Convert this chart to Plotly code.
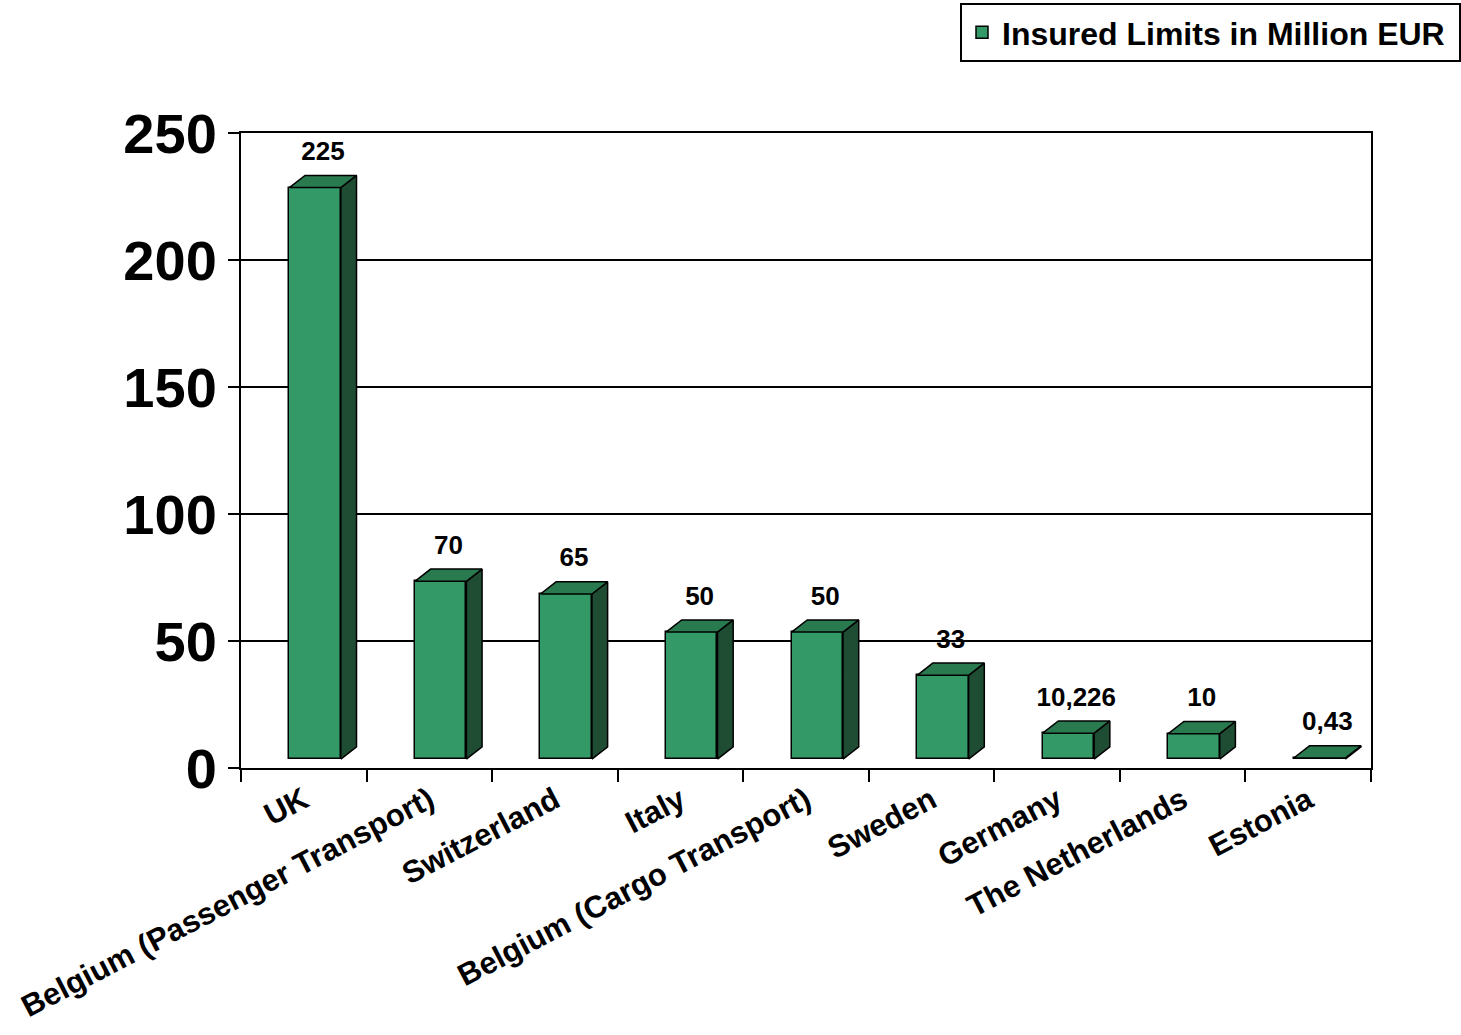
import plotly.graph_objects as go

categories = ["UK", "Belgium (Passenger Transport)", "Switzerland", "Italy",
              "Belgium (Cargo Transport)", "Sweden", "Germany", "The Netherlands", "Estonia"]
values = [225, 70, 65, 50, 50, 33, 10.226, 10, 0.43]
value_labels = ["225", "70", "65", "50", "50", "33", "10,226", "10", "0,43"]
series_name = "Insured Limits in Million EUR"

FRONT = "#339966"
TOP = "#2A7A50"
SIDE = "#1E4D33"
FONT = "Arial, Liberation Sans, sans-serif"

# 3D look parameters (data units)
BASE = 3.5      # floor lift of the front face
W = 0.41        # front face width (category units)
OFF = 0.09      # shift of bars within category
DX = 0.125      # depth, horizontal
DY = 4.8        # depth, vertical
LABEL_GAP = 3.5

n = len(categories)
centers = [i + OFF for i in range(n)]

fig = go.Figure()

fig.add_trace(go.Bar(
    x=categories, y=values, base=[BASE] * n, width=W, offset=OFF - W / 2,
    name=series_name + "\u00a0",
    marker=dict(color=FRONT, line=dict(color="black", width=1.5)),
    hoverinfo="skip",
))

side_x, side_y, top_x, top_y = [], [], [], []
for c, v in zip(centers, values):
    xr = c + W / 2
    xl = c - W / 2
    side_x += [xr, xr + DX, xr + DX, xr, xr, None]
    side_y += [BASE, BASE + DY, BASE + v + DY, BASE + v, BASE, None]
    top_x += [xl, xl + DX, xr + DX, xr, xl, None]
    top_y += [BASE + v, BASE + v + DY, BASE + v + DY, BASE + v, BASE + v, None]

fig.add_trace(go.Scatter(x=side_x, y=side_y, xaxis="x2", yaxis="y", mode="lines",
                         fill="toself", fillcolor=SIDE, line=dict(color="black", width=1.5),
                         showlegend=False, hoverinfo="skip"))
fig.add_trace(go.Scatter(x=top_x, y=top_y, xaxis="x2", yaxis="y", mode="lines",
                         fill="toself", fillcolor=TOP, line=dict(color="black", width=1.5),
                         showlegend=False, hoverinfo="skip"))

fig.add_trace(go.Scatter(
    x=[c + DX / 2 for c in centers], y=[BASE + v + DY + LABEL_GAP for v in values],
    xaxis="x2", yaxis="y", mode="text", text=value_labels,
    textposition="top center",
    textfont=dict(family=FONT, size=26, color="black", weight="bold"),
    showlegend=False, hoverinfo="skip",
))

fig.update_layout(
    width=1461, height=1035,
    margin=dict(l=241, r=90, t=133, b=267, autoexpand=False),
    paper_bgcolor="white", plot_bgcolor="white",
    bargap=0,
    showlegend=True,
    legend=dict(
        xref="container", yref="container",
        x=1.0, xanchor="right", y=1 - 3 / 1035, yanchor="top",
        bgcolor="white", bordercolor="black", borderwidth=2,
        font=dict(family=FONT, size=32, color="black", weight="bold"),
    ),
    xaxis=dict(
        type="category", range=[-0.5, n - 0.5], tickson="boundaries",
        ticks="outside", ticklen=12, tickwidth=2, tickcolor="black",
        tickangle=-27.5, showline=True, linecolor="black", linewidth=2, mirror=True,
        showgrid=False, automargin=False,
        tickfont=dict(family=FONT, size=31, color="black", weight="bold"),
    ),
    xaxis2=dict(overlaying="x", range=[-0.5, n - 0.5], visible=False,
                showgrid=False, zeroline=False),
    yaxis=dict(
        range=[0, 250], dtick=50, ticks="outside", ticklen=11, tickwidth=2,
        tickcolor="black", showline=True, linecolor="black", linewidth=2, mirror=True,
        showgrid=True, gridcolor="black", gridwidth=1.5, zeroline=False,
        automargin=False,
        tickfont=dict(family=FONT, size=56, color="black", weight="bold"),
    ),
)

fig.write_html("out.html")
